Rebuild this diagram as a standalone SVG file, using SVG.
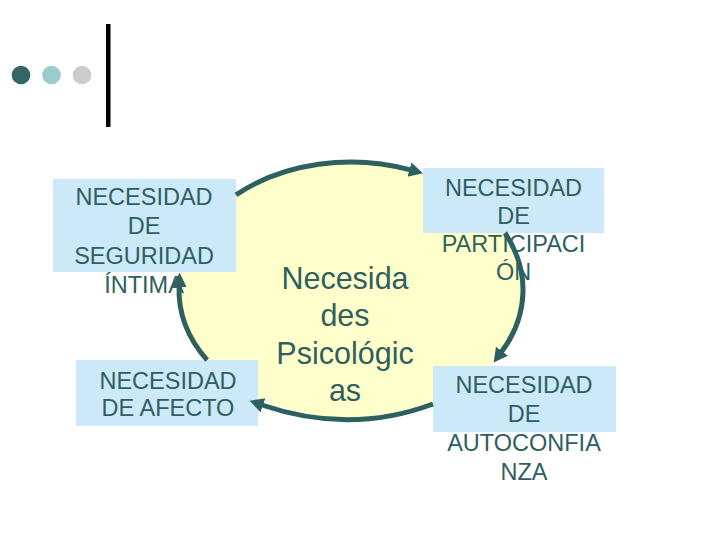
<svg xmlns="http://www.w3.org/2000/svg" width="720" height="540" viewBox="0 0 720 540">
<style>
.box{fill:#cce9fa}
.t{font-family:"Liberation Sans",Arial,sans-serif;font-size:23.5px;fill:#2f5f5f;text-anchor:middle}
.c{font-family:"Liberation Sans",Arial,sans-serif;font-size:30.5px;fill:#2f5f5f;text-anchor:middle}
.arc{fill:none;stroke:#2f6060;stroke-width:5;marker-end:url(#ah)}
</style>
<defs>
<marker id="ah" markerUnits="userSpaceOnUse" markerWidth="16" markerHeight="16" refX="1" refY="7.5" orient="auto">
<path d="M0,0 L14,7.5 L0,15 z" fill="#2f6060"/>
</marker>
</defs>
<rect width="720" height="540" fill="#ffffff"/>
<g id="decor">
<circle cx="21" cy="75" r="9.3" fill="#336666"/>
<circle cx="51.5" cy="75" r="9.3" fill="#99cccc"/>
<circle cx="82" cy="75" r="9.3" fill="#cccccc"/>
<rect x="106" y="24" width="4.5" height="103" fill="#000000"/>
</g>
<g id="center">
<ellipse cx="351" cy="290" rx="172" ry="128" fill="#ffffcc"/>
<text class="c" x="345" y="289">Necesida</text>
<text class="c" x="345" y="326.3">des</text>
<text class="c" x="345" y="363.6">Psicológic</text>
<text class="c" x="345" y="401">as</text>
</g>
<g id="seguridad">
<rect class="box" x="53" y="179" width="183" height="93"/>
<text class="t" x="144" y="205">NECESIDAD</text>
<text class="t" x="144" y="234.3">DE</text>
<text class="t" x="144" y="263.6">SEGURIDAD</text>
<text class="t" x="144" y="292.8">ÍNTIMA</text>
</g>
<g id="participacion">
<rect class="box" x="423" y="168" width="181" height="65"/>
<text class="t" x="513.5" y="196">NECESIDAD</text>
<text class="t" x="513.5" y="224">DE</text>
<text class="t" x="513.5" y="252">PARTICIPACI</text>
<text class="t" x="513.5" y="280">ÓN</text>
</g>
<g id="autoconfianza">
<rect class="box" x="433" y="366" width="183" height="66"/>
<text class="t" x="524" y="393.3">NECESIDAD</text>
<text class="t" x="524" y="422">DE</text>
<text class="t" x="524" y="450.8">AUTOCONFIA</text>
<text class="t" x="524" y="480">NZA</text>
</g>
<g id="afecto">
<rect class="box" x="76" y="360" width="182" height="66"/>
<text class="t" x="168" y="389">NECESIDAD</text>
<text class="t" x="168" y="416">DE AFECTO</text>
</g>
<g id="connectors">
<path class="arc" d="M236,194.8 A172,128 0 0 1 410.4,169.9"/>
<path class="arc" d="M505,233 A172,128 0 0 1 501.4,352.1"/>
<path class="arc" d="M433,404 Q350,435 262,405"/>
<path class="arc" d="M207.1,360.1 A172,128 0 0 1 179.1,285.8"/>
</g>
</svg>
